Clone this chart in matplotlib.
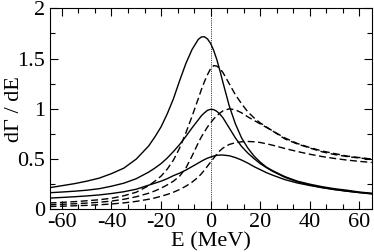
import numpy as np
import matplotlib
matplotlib.use("Agg")
from matplotlib import pyplot as plt
from matplotlib.ticker import MultipleLocator

plt.rcParams['font.family'] = ['Liberation Serif', 'DejaVu Serif']
plt.rcParams['axes.unicode_minus'] = False

energy = [-65, -60, -55, -50, -45, -40, -35, -30, -25,
          -22.5, -20, -17.5, -15, -12.5, -10, -7.5,
          -5, -3.75, -2.5, -1.25, 0, 1.25, 2.5, 3.75, 5,
          7.5, 10, 12.5, 15, 17.5, 20, 22.5,
          25, 30, 35, 40, 45, 50, 55, 60, 65]

# solid curves
solid_high = [0.215, 0.235, 0.255, 0.28, 0.31, 0.355, 0.41, 0.50, 0.63,
              0.72, 0.82, 0.95, 1.10, 1.28, 1.45, 1.59,
              1.69, 1.715, 1.717, 1.695, 1.65, 1.58, 1.49, 1.38, 1.26,
              1.03, 0.85, 0.71, 0.61, 0.53, 0.47, 0.42,
              0.385, 0.325, 0.28, 0.25, 0.225, 0.205, 0.19, 0.172, 0.16]
solid_mid = [0.165, 0.172, 0.18, 0.19, 0.205, 0.23, 0.26, 0.305, 0.37,
             0.41, 0.455, 0.51, 0.575, 0.645, 0.725, 0.81,
             0.89, 0.93, 0.96, 0.985, 0.995, 0.992, 0.975, 0.947, 0.91,
             0.81, 0.71, 0.625, 0.56, 0.505, 0.455, 0.415,
             0.378, 0.318, 0.274, 0.242, 0.217, 0.197, 0.181, 0.167, 0.156]
solid_low = [0.112, 0.118, 0.125, 0.133, 0.143, 0.157, 0.175, 0.20, 0.24,
             0.26, 0.28, 0.305, 0.335, 0.36, 0.39, 0.425,
             0.46, 0.478, 0.495, 0.509, 0.52, 0.53, 0.537, 0.54, 0.54,
             0.533, 0.515, 0.49, 0.46, 0.425, 0.395, 0.365,
             0.34, 0.295, 0.262, 0.237, 0.215, 0.196, 0.18, 0.166, 0.153]

# dashed curves
dash_high = [0.063, 0.069, 0.076, 0.085, 0.095, 0.11, 0.135, 0.17, 0.235,
             0.28, 0.33, 0.40, 0.49, 0.61, 0.76, 0.925,
             1.10, 1.19, 1.27, 1.34, 1.40, 1.43, 1.425, 1.40, 1.36,
             1.25, 1.14, 1.05, 0.97, 0.91, 0.86, 0.82,
             0.78, 0.71, 0.655, 0.615, 0.58, 0.555, 0.53, 0.515, 0.50]
dash_mid = [0.045, 0.05, 0.055, 0.062, 0.07, 0.082, 0.10, 0.125, 0.16,
            0.183, 0.21, 0.243, 0.28, 0.33, 0.41, 0.53,
            0.66, 0.72, 0.77, 0.82, 0.86, 0.90, 0.93, 0.958, 0.98,
            1.0, 0.99, 0.96, 0.92, 0.885, 0.85, 0.815,
            0.78, 0.70, 0.65, 0.61, 0.572, 0.545, 0.525, 0.51, 0.50]
dash_low = [0.028, 0.031, 0.035, 0.039, 0.045, 0.053, 0.064, 0.079, 0.10,
            0.113, 0.13, 0.148, 0.17, 0.197, 0.23, 0.27,
            0.32, 0.353, 0.39, 0.43, 0.47, 0.51, 0.55, 0.583, 0.61,
            0.645, 0.663, 0.672, 0.675, 0.672, 0.665, 0.652,
            0.638, 0.605, 0.575, 0.548, 0.525, 0.506, 0.49, 0.477, 0.466]

xticks = [-60, -40, -20, 0, 20, 40, 60]
yticks = [0, 0.5, 1, 1.5, 2]
ytick_labels = ["0", "0.5", "1", "1.5", "2"]

fig = plt.figure(figsize=(3.74, 2.52), dpi=100)
ax = fig.add_axes([0.1324, 0.1694, 0.8615, 0.7976])

ax.axvline(0, color="black", lw=0.6, ls=(0, (1, 1.2)))

for ys in (solid_high, solid_mid, solid_low):
    ax.plot(energy, ys, color="black", lw=1.0)
for ys in (dash_high, dash_mid, dash_low):
    ax.plot(energy, ys, color="black", lw=1.0, ls=(0, (5, 2.5)))

ax.set_xlim(-65, 65)
ax.set_ylim(0, 2)
ax.set_xticks(xticks)
ax.set_yticks(yticks)
ax.set_yticklabels(ytick_labels)
ax.xaxis.set_minor_locator(MultipleLocator(20 / 3))
ax.yaxis.set_minor_locator(MultipleLocator(0.25))
ax.tick_params(which="both", direction="in", top=True, right=True,
               labelsize=16, width=0.8)
ax.tick_params(which="major", length=6, pad=3)
ax.tick_params(which="minor", length=3.5)
for s in ax.spines.values():
    s.set_linewidth(0.8)

ax.set_xlabel("E (MeV)", fontsize=16, labelpad=0)
ax.set_ylabel("d\u0393 / dE", fontsize=16)
ax.yaxis.set_label_coords(-0.078, 0.5)

fig.savefig("out.png", dpi=100)
